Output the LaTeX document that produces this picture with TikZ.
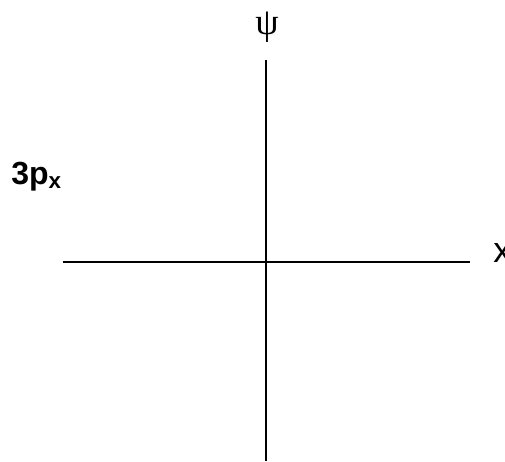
\documentclass[tikz,border=0pt]{standalone}
\usepackage{fontspec}
\setmainfont{Liberation Sans}
\newfontfamily\greekfont{Liberation Serif}
\usepackage{tikz}
\usetikzlibrary{positioning}

\begin{document}
\begin{tikzpicture}[x=0.75pt, y=-0.75pt, axis/.style={line width=1.3pt, black}]
  \useasboundingbox (0,0) rectangle (505,461);
  \coordinate (xl) at (63,262);
  \coordinate (xr) at (470,262);
  \coordinate (yt) at (266,60);
  \coordinate (yb) at (266,461);
  \draw[axis] (xl) -- (xr);
  \draw[axis] (yt) -- (yb);
  \node[inner sep=0pt, anchor=south] (psi) at (267,43) {\greekfont\fontsize{28}{30}\selectfont ψ};
  \node[inner sep=0pt, anchor=base west] (xlab) at (493,262) {\fontsize{27}{30}\selectfont x};
  \node[inner sep=0pt, anchor=base west] (orb) at (11,184) {\fontsize{24}{27}\selectfont\bfseries 3p\textsubscript{x}};
\end{tikzpicture}
\end{document}
